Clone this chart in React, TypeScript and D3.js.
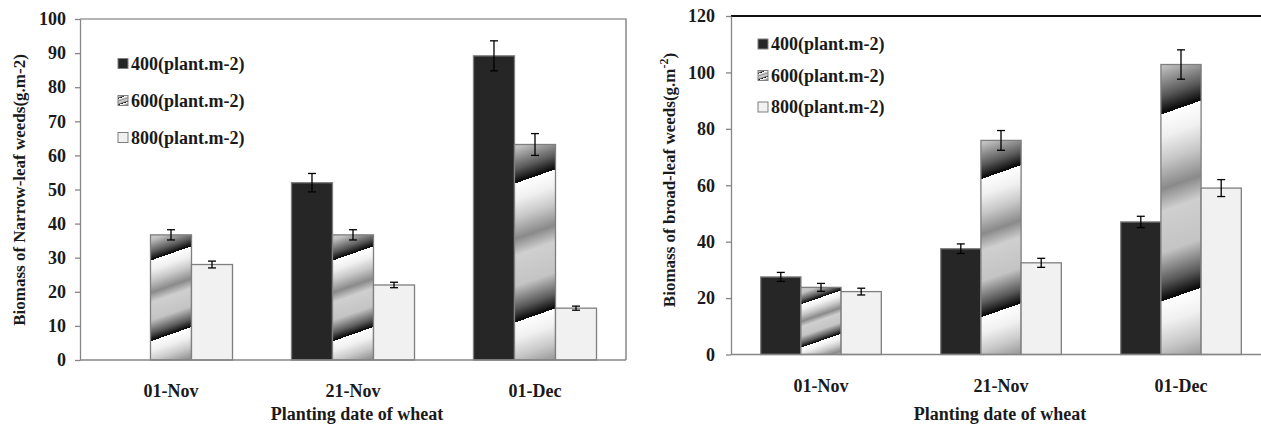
import React, { useEffect, useRef } from "react";
import * as d3 from "d3";

const dates = ["01-Nov", "21-Nov", "01-Dec"];
const densities = ["400(plant.m-2)", "600(plant.m-2)", "800(plant.m-2)"];

// narrow-leaf weeds biomass (g.m-2), left panel
const narrow400 = [0, 52.0, 89.2];
const narrow600 = [36.7, 36.7, 63.2];
const narrow800 = [28.0, 22.0, 15.2];
const narrowErr400 = [0, 2.7, 4.4];
const narrowErr600 = [1.5, 1.5, 3.2];
const narrowErr800 = [1.0, 0.8, 0.6];

// broad-leaf weeds biomass (g.m-2), right panel
const broad400 = [27.5, 37.5, 47.0];
const broad600 = [23.8, 75.9, 102.8];
const broad800 = [22.3, 32.5, 59.0];
const broadErr400 = [1.6, 1.7, 2.0];
const broadErr600 = [1.4, 3.5, 5.2];
const broadErr800 = [1.2, 1.6, 3.0];

const narrowTicks = d3.range(0, 101, 10);
const broadTicks = d3.range(0, 121, 20);

const FONT = "'Liberation Serif', 'Times New Roman', serif";
const TEXT = "#1a1a1a";
const AXIS = "#868686";
const BAR_STROKE = "#7f7f7f";

// gradient stops of the slanted "wood" fill of the 600 series (one period)
const stripeStops: [number, string][] = [
  [0, "#ffffff"],
  [0.12, "#f0f0f0"],
  [0.25, "#c8c8c8"],
  [0.4, "#8a8a8a"],
  [0.52, "#cfcfcf"],
  [0.74, "#c4c4c4"],
  [0.9, "#5a5a5a"],
  [0.99, "#0d0d0d"],
];

let gradId = 0;
// adds a repeating slanted gradient laid over a box, returns url(...)
function stripeFill(defs, x, y, w, h) {
  const id = "stripe" + gradId++;
  const P = h / 1.55;
  const slope = 0.35;
  const len = Math.hypot(slope, 1);
  const nx = slope / len;
  const ny = 1 / len;
  const L = P * ny;
  const x1 = x + w / 2;
  const y1 = y + 0.23 * P;
  const g = defs
    .append("linearGradient")
    .attr("id", id)
    .attr("gradientUnits", "userSpaceOnUse")
    .attr("spreadMethod", "repeat")
    .attr("x1", x1)
    .attr("y1", y1)
    .attr("x2", x1 + L * nx)
    .attr("y2", y1 + L * ny);
  stripeStops.forEach(([o, c]) => {
    g.append("stop").attr("offset", o).attr("stop-color", c);
  });
  return `url(#${id})`;
}

function drawPanel(svg, defs, cfg) {
  const { left, right, top, bottom, yMax, ticks, series, errors, tickPad, labelY, legendX, legendY, legendGap, frame } = cfg;

  const y = d3.scaleLinear().domain([0, yMax]).range([bottom, top]);
  const x0 = d3
    .scaleBand()
    .domain(dates)
    .range([left, right])
    .paddingInner(cfg.pad)
    .paddingOuter(cfg.pad / 2);
  const x1 = d3.scaleBand().domain(densities).range([0, x0.bandwidth()]);

  const g = svg.append("g");

  // frame
  if (frame === "box") {
    g.append("path")
      .attr("d", `M${left},${top}H${right}V${bottom}`)
      .attr("fill", "none")
      .attr("stroke", "#6a6a6a")
      .attr("stroke-width", 1.2);
  } else {
    g.append("line")
      .attr("x1", left)
      .attr("x2", right)
      .attr("y1", top)
      .attr("y2", top)
      .attr("stroke", "#111")
      .attr("stroke-width", 2);
  }

  // bars
  dates.forEach((d, i) => {
    densities.forEach((s, j) => {
      const v = series[j][i];
      if (!v) return;
      const bx = x0(d) + x1(s);
      const bw = x1.bandwidth();
      const by = y(v);
      const bh = y(0) - by;
      let fill = "#262626";
      if (j === 1) fill = stripeFill(defs, bx, by, bw, bh);
      if (j === 2) fill = "#f1f1f1";
      g.append("rect")
        .attr("x", bx)
        .attr("y", by)
        .attr("width", bw)
        .attr("height", bh)
        .attr("fill", fill)
        .attr("stroke", BAR_STROKE)
        .attr("stroke-width", 1.3);

      // error bar
      const e = errors[j][i];
      const cx = bx + bw / 2;
      const eb = g.append("g").attr("stroke", "#000").attr("stroke-width", 1.3);
      eb.append("line").attr("x1", cx).attr("x2", cx).attr("y1", y(v + e)).attr("y2", y(v - e));
      eb.append("line").attr("x1", cx - 4).attr("x2", cx + 4).attr("y1", y(v + e)).attr("y2", y(v + e));
      eb.append("line").attr("x1", cx - 4).attr("x2", cx + 4).attr("y1", y(v - e)).attr("y2", y(v - e));
    });
  });

  // y axis
  const ya = g
    .append("g")
    .attr("transform", `translate(${left},0)`)
    .call(d3.axisLeft(y).tickValues(ticks).tickSizeInner(5).tickSizeOuter(0).tickPadding(tickPad));
  ya.select(".domain").attr("stroke", AXIS).attr("stroke-width", 1.3);
  ya.selectAll(".tick line").attr("stroke", AXIS).attr("stroke-width", 1.3);
  ya.selectAll(".tick text")
    .attr("font-family", FONT)
    .attr("font-weight", "bold")
    .attr("font-size", 18)
    .attr("fill", TEXT);

  // x axis baseline
  g.append("line")
    .attr("x1", left)
    .attr("x2", right)
    .attr("y1", bottom)
    .attr("y2", bottom)
    .attr("stroke", AXIS)
    .attr("stroke-width", 1.3);

  g.selectAll(".cat")
    .data(dates)
    .enter()
    .append("text")
    .attr("x", (d) => x0(d) + x0.bandwidth() / 2)
    .attr("y", labelY)
    .attr("text-anchor", "middle")
    .attr("font-family", FONT)
    .attr("font-weight", "bold")
    .attr("font-size", 18)
    .attr("fill", TEXT)
    .text((d) => d);

  g.append("text")
    .attr("x", cfg.xTitleX)
    .attr("y", 420)
    .attr("text-anchor", "middle")
    .attr("font-family", FONT)
    .attr("font-weight", "bold")
    .attr("font-size", 18)
    .attr("fill", TEXT)
    .text("Planting date of wheat");

  // y title
  const yt = g
    .append("text")
    .attr("transform", `translate(${cfg.yTitleX},${cfg.yTitleY}) rotate(-90)`)
    .attr("text-anchor", "middle")
    .attr("font-family", FONT)
    .attr("font-weight", "bold")
    .attr("font-size", 17)
    .attr("fill", TEXT);
  if (cfg.superTitle) {
    yt.append("tspan").text(cfg.yTitle);
    yt.append("tspan").attr("dy", -7).attr("font-size", 12).text("-2");
    yt.append("tspan").attr("dy", 7).text(")");
  } else {
    yt.text(cfg.yTitle);
  }

  // legend
  densities.forEach((s, j) => {
    const ly = legendY + j * legendGap;
    let fill = "#262626";
    if (j === 1) fill = stripeFill(defs, legendX, ly - 5, 10, 10);
    if (j === 2) fill = "#f1f1f1";
    g.append("rect")
      .attr("x", legendX)
      .attr("y", ly - 5)
      .attr("width", 10)
      .attr("height", 10)
      .attr("fill", fill)
      .attr("stroke", BAR_STROKE)
      .attr("stroke-width", 1);
    g.append("text")
      .attr("x", legendX + 13)
      .attr("y", ly + 6)
      .attr("font-family", FONT)
      .attr("font-weight", "bold")
      .attr("font-size", 18)
      .attr("fill", TEXT)
      .text(s);
  });
}

export default function App() {
  const svgRef = useRef<SVGSVGElement>(null);

  useEffect(() => {
    const svg = d3.select(svgRef.current);
    svg.selectAll("*").remove();
    gradId = 0;
    const defs = svg.append("defs");

    drawPanel(svg, defs, {
      left: 80,
      right: 626,
      top: 19,
      bottom: 360,
      yMax: 100,
      ticks: narrowTicks,
      pad: 0.324,
      series: [narrow400, narrow600, narrow800],
      errors: [narrowErr400, narrowErr600, narrowErr800],
      tickPad: 9,
      labelY: 397,
      legendX: 118,
      legendY: 63.5,
      legendGap: 37,
      frame: "box",
      xTitleX: 357,
      yTitle: "Biomass of Narrow-leaf weeds(g.m-2)",
      yTitleX: 25,
      yTitleY: 190,
      superTitle: false,
    });

    drawPanel(svg, defs, {
      left: 731,
      right: 1271,
      top: 16,
      bottom: 354.5,
      yMax: 120,
      ticks: broadTicks,
      pad: 0.33,
      series: [broad400, broad600, broad800],
      errors: [broadErr400, broadErr600, broadErr800],
      tickPad: 11,
      labelY: 392,
      legendX: 758,
      legendY: 44,
      legendGap: 31.5,
      frame: "top",
      xTitleX: 1000,
      yTitle: "Biomass of broad-leaf weeds(g.m",
      yTitleX: 675,
      yTitleY: 180,
      superTitle: true,
    });
  }, []);

  return (
    <svg
      ref={svgRef}
      width={1261}
      height={425}
      style={{ position: "absolute", left: 0, top: 0, background: "#fff" }}
    ></svg>
  );
}
